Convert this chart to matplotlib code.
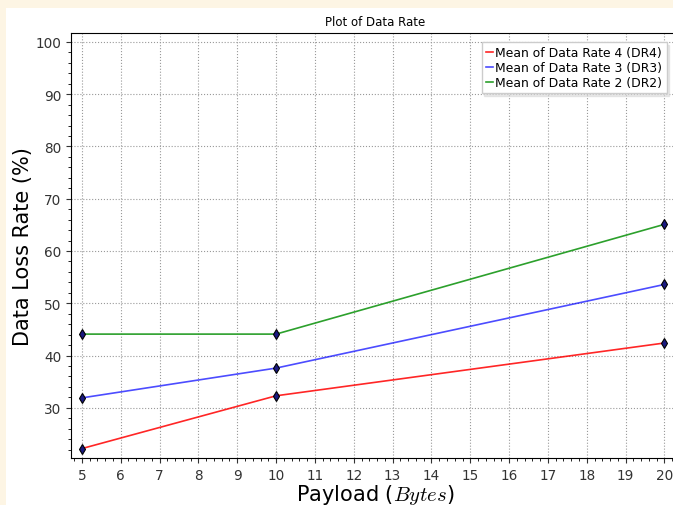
import matplotlib
matplotlib.use('Agg')
import matplotlib.pyplot as plt
from matplotlib.patches import Rectangle
from matplotlib.ticker import AutoMinorLocator, MultipleLocator

plt.rcParams['mathtext.fontset'] = 'cm'

# данные
payload = [5, 10, 20]
dr4 = [22.2, 32.3, 42.4]
dr3 = [31.9, 37.6, 53.6]
dr2 = [44.1, 44.1, 65.1]
labels = ['Mean of Data Rate 4 (DR4)', 'Mean of Data Rate 3 (DR3)', 'Mean of Data Rate 2 (DR2)']

fig = plt.figure(figsize=(6.73, 5.06), dpi=100, facecolor='#fdf5e4')
# белая область рисунка (скриншот обрезан)
fig.patches.append(Rectangle((6 / 673, 0), 1, 1 - 9 / 506, transform=fig.transFigure,
                             facecolor='white', edgecolor='none', zorder=-5))

ax = fig.add_axes([71 / 673, (506 - 459) / 506, (680 - 71) / 673, (459 - 34) / 506])

ax.plot(payload, dr4, color='red', lw=1.2, alpha=0.85, label=labels[0])
ax.plot(payload, dr3, color='blue', lw=1.2, alpha=0.7, label=labels[1])
ax.plot(payload, dr2, color='tab:green', lw=1.2, label=labels[2])
for s in (dr4, dr3, dr2):
    ax.plot(payload, s, linestyle='none', marker='d', markersize=5,
            markerfacecolor='#1a1a80', markeredgecolor='black', markeredgewidth=0.8)

ax.set_xlim(4.72, 20.4)
ax.set_ylim(20.4, 101.7)
ax.xaxis.set_major_locator(MultipleLocator(1))
ax.yaxis.set_major_locator(MultipleLocator(10))
ax.xaxis.set_minor_locator(AutoMinorLocator(5))
ax.yaxis.set_minor_locator(AutoMinorLocator(5))
ax.tick_params(labelsize=9.8, colors='#333333')
ax.grid(True, which='major', linestyle=':', color='#999999', linewidth=0.8)

ax.set_title('Plot of Data Rate', fontsize=8.5)
ax.set_xlabel('Payload ($Bytes$)', fontsize=15, labelpad=0)
ax.set_ylabel('Data Loss Rate (%)', fontsize=15, labelpad=0)
ax.yaxis.set_label_coords(-0.062, 0.5)

ax.legend(loc='upper right', bbox_to_anchor=(0.982, 0.985), fontsize=8.9, handlelength=0.55,
          handletextpad=0.2, borderpad=0.35, labelspacing=0.15, borderaxespad=0.2,
          shadow={'color': '0.85', 'alpha': 0.6}, fancybox=False, framealpha=1,
          edgecolor='#cccccc')

plt.savefig('out.png', dpi=100, facecolor=fig.get_facecolor())
plt.close()
